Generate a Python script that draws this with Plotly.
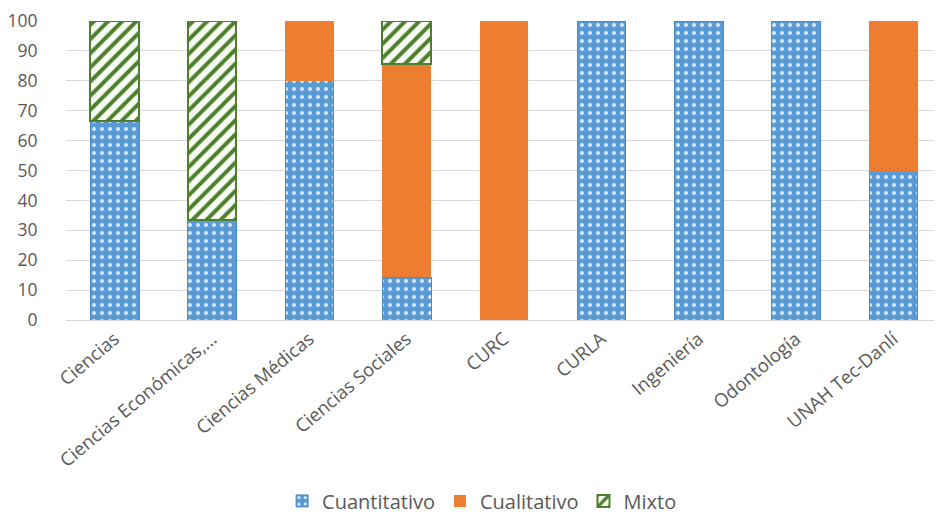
import plotly.graph_objects as go

categories = ["Ciencias", "Ciencias Económicas,...", "Ciencias Médicas", "Ciencias Sociales",
              "CURC", "CURLA", "Ingeniería", "Odontología", "UNAH Tec-Danlí"]
cuantitativo = [66.7, 33.3, 80.0, 14.3, None, 100, 100, 100, 50]
cualitativo = [None, None, 20.0, 71.4, 100, None, None, None, 50]
mixto = [33.3, 66.7, None, 14.3, None, None, None, None, None]
y_ticks = [0, 10, 20, 30, 40, 50, 60, 70, 80, 90, 100]

BLUE = "#5B9BD5"
ORANGE = "#ED7D31"
GREEN = "#4E7F2E"
GREY = "#595959"

fig = go.Figure()
fig.add_trace(go.Bar(
    name="Cuantitativo", x=categories, y=cuantitativo,
    marker=dict(color=BLUE, line=dict(color="#4a8ac6", width=1),
                pattern=dict(shape=".", fgcolor="#e3eefa", bgcolor=BLUE, fgopacity=1,
                             size=8, solidity=0.18)),
))
fig.add_trace(go.Bar(
    name="Cualitativo", x=categories, y=cualitativo,
    marker=dict(color=ORANGE, line=dict(width=0)),
))
fig.add_trace(go.Bar(
    name="Mixto", x=categories, y=mixto,
    marker=dict(color="#f7fbf2", line=dict(color=GREEN, width=2),
                pattern=dict(shape="/", fgcolor=GREEN, bgcolor="#f7fbf2", fgopacity=1,
                             size=10, solidity=0.4)),
))

fig.update_layout(
    barmode="stack",
    bargap=0.5,
    width=934, height=511,
    margin=dict(l=58, r=0, t=13, b=199, autoexpand=False),
    paper_bgcolor="white", plot_bgcolor="white",
    font=dict(family="Open Sans, Liberation Sans, sans-serif", color=GREY, size=18),
    showlegend=True,
    legend=dict(orientation="h", x=0.475, xanchor="center", y=-0.605, yanchor="middle",
                font=dict(size=20, color=GREY), itemwidth=30, traceorder="normal"),
)
fig.update_yaxes(range=[0, 100], tickvals=y_ticks, showgrid=True, gridcolor="#d9d9d9",
                 gridwidth=1, zeroline=False, ticks="outside", ticklen=24, tickcolor="rgba(0,0,0,0)",
                 tickfont=dict(size=17.5, color=GREY), showline=False, automargin=False,
                 ticklabeloverflow="allow")
fig.update_xaxes(tickangle=-40, tickfont=dict(size=18.5, color=GREY), showline=True,
                 linecolor="#d9d9d9", linewidth=1, ticks="", automargin=False,
                 ticklabeloverflow="allow")

fig.write_html("out.html")
